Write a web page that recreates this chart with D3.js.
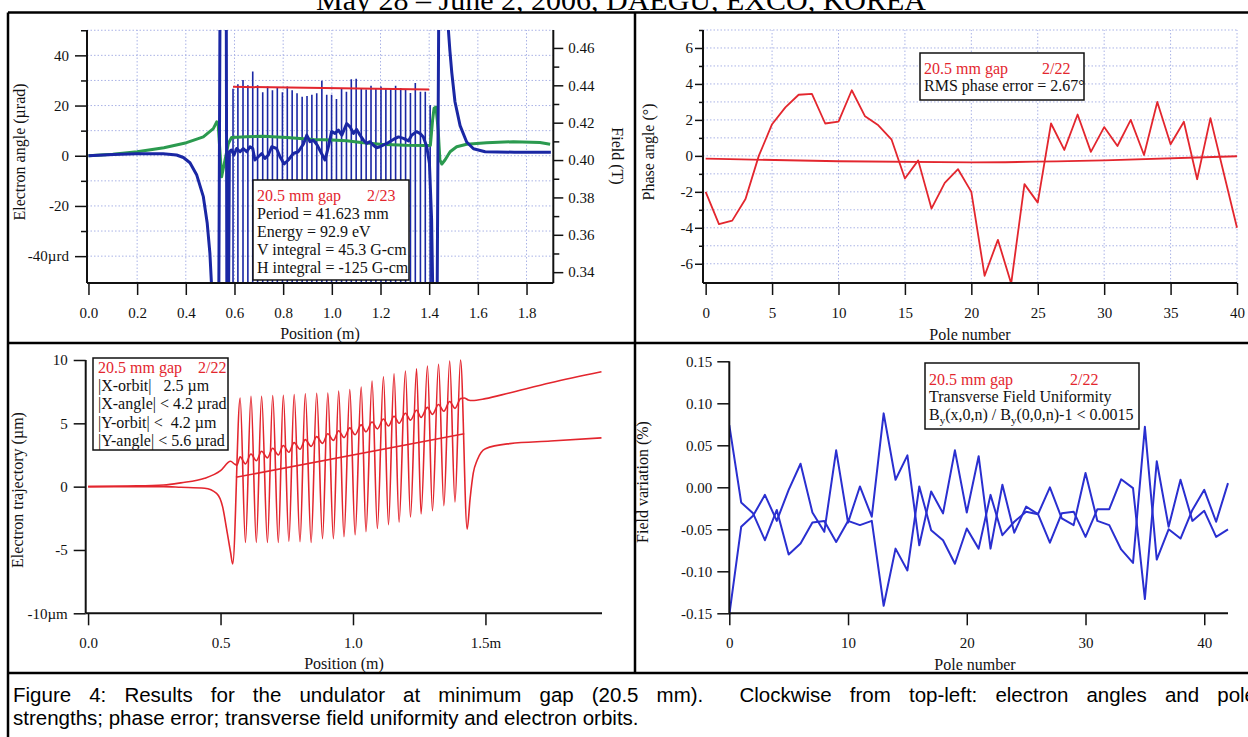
<!DOCTYPE html>
<html><head><meta charset="utf-8"><title>Undulator results at minimum gap</title>
<script src="https://cdn.jsdelivr.net/npm/d3@7"></script>
<style>
html,body{margin:0;padding:0;background:#fff;overflow:hidden}
svg{display:block}
</style></head>
<body><svg id="fig" width="1248" height="737"></svg>
<script>
// ================= DATA =================
// --- Top-left: electron angles (µrad, left axis) and pole strengths (T, right axis) vs position (m)
const tlAngle = [
 [0,0],[0.102,0.5],[0.198,0.8],[0.307,0.8],[0.362,0.3],[0.39,-0.7],[0.417,-2.8],[0.445,-7.7],[0.472,-16.3],[0.488,-26.9],[0.499,-38.9],[0.505,-50.2],[0.512,-70],
 [0.535,-70],[0.541,70],[0.566,70],[0.569,-70],[0.575,-70],
 [0.579,1.6],[0.588,2.3],[0.598,0.3],[0.609,2.9],[0.623,1.6],[0.636,2.9],[0.650,1.6],[0.664,3.6],[0.675,2.9],[0.684,-1.7],[0.698,-0.4],[0.712,0.9],[0.725,-1.1],[0.739,0.3],[0.753,3.6],[0.773,2.9],[0.787,-0.4],[0.804,-3.3],[0.821,-1.7],[0.842,0.9],[0.862,1.6],[0.883,4.6],[0.897,8.2],[0.910,5.6],[0.924,6.2],[0.940,4.2],[0.954,1.6],[0.972,-1.7],[0.986,3.6],[0.999,9.6],[1.013,8.9],[1.027,10.2],[1.041,8.2],[1.061,12.8],[1.075,11.5],[1.089,8.9],[1.102,10.5],[1.116,8.2],[1.130,6.2],[1.143,4.9],[1.157,5.6],[1.171,4.2],[1.184,3.2],[1.198,3.6],[1.226,4.9],[1.253,6.5],[1.274,7.5],[1.294,6.9],[1.315,5.9],[1.328,8.2],[1.348,9.6],[1.362,8.9],[1.376,7.5],[1.390,3.6],[1.401,-3.0],[1.410,-25.6],[1.414,-50.2],[1.418,-70],
 [1.432,-70],[1.440,70],[1.474,70],[1.479,50],[1.485,42],[1.493,33],[1.506,21.5],[1.527,12],[1.554,5.5],[1.582,2.8],[1.63,1.6],[1.75,1.4],[1.90,1.4]
];
const tlGreen = [
 [0,0],[0.1,0.6],[0.2,1.6],[0.31,3.2],[0.403,5.2],[0.472,7.5],[0.513,10.8],[0.527,13.5],[0.533,12.5],[0.547,-8.4],[0.561,-1.7],[0.575,4.9],[0.588,7.3],[0.65,7.6],[0.718,7.8],[0.815,7.3],[0.924,6.5],[1.0,6.3],[1.061,6.0],[1.12,5.3],[1.198,4.6],[1.3,4.2],[1.39,4.1],[1.405,4.1],[1.414,14.2],[1.42,18.9],[1.428,19.4],[1.437,10.2],[1.444,-1.7],[1.452,-3.3],[1.465,-1.7],[1.486,1.6],[1.513,3.6],[1.554,4.6],[1.636,5.2],[1.746,5.6],[1.855,5.3],[1.897,4.6]
];
const tlPolePos = [0.594,0.614,0.635,0.655,0.675,0.695,0.716,0.736,0.756,0.776,0.797,0.817,0.837,0.857,0.878,0.898,0.918,0.938,0.959,0.979,0.999,1.019,1.040,1.060,1.080,1.100,1.121,1.141,1.161,1.181,1.202,1.222,1.242,1.262,1.283,1.303,1.323,1.343,1.364,1.384,1.404];
const tlPoleField = [0.4382,0.4406,0.4429,0.4400,0.4474,0.4400,0.4363,0.4393,0.4373,0.4386,0.4363,0.4393,0.4373,0.4357,0.4339,0.4343,0.4349,0.4357,0.4424,0.4349,0.4349,0.4327,0.4380,0.4366,0.4433,0.4435,0.4380,0.4378,0.4398,0.4386,0.4394,0.4384,0.4381,0.4397,0.4386,0.4376,0.4359,0.4412,0.4366,0.4366,0.4295];
const tlFitPos = [0.594, 1.40];
const tlFitField = [0.4392, 0.4377];
const tlXTicks = [0,0.2,0.4,0.6,0.8,1.0,1.2,1.4,1.6,1.8];
const tlXLabels = ["0.0","0.2","0.4","0.6","0.8","1.0","1.2","1.4","1.6","1.8"];
const tlLTicks = [40,20,0,-20,-40];
const tlLLabels = ["40","20","0","-20","-40µrd"];
const tlLMinor = [50,30,10,-10,-30];
const tlRTicks = [0.46,0.44,0.42,0.40,0.38,0.36,0.34];
const tlRLabels = ["0.46","0.44","0.42","0.40","0.38","0.36","0.34"];
const tlRMinor = [0.45,0.43,0.41,0.39,0.37,0.35];
const tlGridX = [0.2,0.4,0.6,0.8,1.0,1.2,1.4,1.6,1.8];
const tlGridY = [50,40,30,20,10,0,-10,-20,-30,-40];
const tlBoxHead = ["20.5 mm gap","2/23"];
const tlBoxLines = ["Period = 41.623 mm","Energy = 92.9 eV","V integral = 45.3 G-cm","H integral = -125 G-cm"];

// --- Top-right: phase angle (deg) vs pole number
const trPoles = d3.range(0,41);
const trPhase = [-2.0,-3.8,-3.6,-2.4,0.0,1.76,2.7,3.4,3.45,1.8,1.9,3.65,2.2,1.7,0.9,-1.26,-0.25,-2.93,-1.5,-0.74,-2.0,-6.67,-4.67,-7.1,-1.57,-2.6,1.8,0.33,2.3,0.22,1.6,0.55,2.0,0.05,3.0,0.65,1.9,-1.3,2.1,-0.95,-4.0];
const trFitPoles = [0,10,20,30,40];
const trFitPhase = [-0.15,-0.3,-0.36,-0.25,-0.02];
const trXTicks = [0,5,10,15,20,25,30,35,40];
const trXLabels = ["0","5","10","15","20","25","30","35","40"];
const trYTicks = [6,4,2,0,-2,-4,-6];
const trYLabels = ["6","4","2","0","-2","-4","-6"];
const trYMinor = [7,5,3,1,-1,-3,-5];
const trGridX = [5,10,15,20,25,30,35,40];
const trGridY = [7,6,5,4,3,2,1,0,-1,-2,-3,-4,-5,-6];
const trBoxHead = ["20.5 mm gap","2/22"];
const trBoxLine = "RMS phase error = 2.67°";

// --- Bottom-left: electron trajectory (µm) vs position (m)
const blOrbitA = [
 [0,0],[0.2,0],[0.285,0],[0.35,-0.05],[0.44,-0.13],[0.485,-0.53],[0.508,-1.6],[0.523,-3.35],[0.538,-5.2],[0.546,-6.1],
 [0.574,7.0],[0.594,-4.4],[0.615,7.14],[0.635,-4.4],[0.655,7.14],[0.677,-4.4],[0.697,7.2],[0.718,-4.4],[0.737,7.22],[0.758,-4.3],
 [0.778,7.28],[0.800,-4.35],[0.820,7.33],[0.842,-4.4],[0.863,7.38],[0.885,-4.1],[0.905,7.4],[0.926,-4.1],[0.946,7.54],[0.966,-3.95],
 [0.988,7.67],[1.008,-3.8],[1.031,7.86],[1.049,-3.55],[1.072,8.33],[1.092,-3.3],[1.115,8.68],[1.134,-3.0],[1.155,8.92],[1.174,-2.8],
 [1.198,9.13],[1.217,-2.4],[1.240,9.31],[1.257,-2.15],[1.281,9.52],[1.300,-1.9],[1.323,9.66],[1.343,-1.5],[1.365,9.92],[1.385,-1.2],[1.406,10.0],
 [1.431,-3.35],[1.442,-0.96],[1.454,1.06],[1.469,2.1],[1.5,3.0],[1.592,3.4],[1.746,3.6],[1.938,3.85]
];
const blOrbitB = [
 [0,0],[0.15,0.05],[0.285,0.13],[0.35,0.3],[0.44,0.66],[0.5,1.27],[0.538,2.0],[0.552,1.8],[0.562,1.7],
 [0.574,2.35],[0.594,1.8],[0.615,2.58],[0.635,2.04],[0.655,2.8],[0.677,2.27],[0.697,3.03],[0.718,2.5],[0.737,3.25],[0.758,2.72],
 [0.778,3.48],[0.800,2.95],[0.820,3.71],[0.842,3.18],[0.863,3.95],[0.885,3.42],[0.905,4.18],[0.926,3.65],[0.946,4.41],[0.966,3.87],
 [0.988,4.64],[1.008,4.1],[1.031,4.88],[1.049,4.33],[1.072,5.1],[1.092,4.56],[1.115,5.34],[1.134,4.79],[1.155,5.56],[1.174,5.01],
 [1.198,5.8],[1.217,5.25],[1.240,6.03],[1.257,5.47],[1.281,6.26],[1.300,5.71],[1.323,6.49],[1.343,5.95],[1.365,6.72],[1.385,6.18],[1.406,6.95],
 [1.42,7.0],[1.435,6.85],[1.45,6.8],[1.5,6.95],[1.59,7.4],[1.746,8.2],[1.938,9.07]
];
const blLine = [[0.558,0.74],[1.42,4.18]];
const blXTicks = [0,0.5,1.0,1.5];
const blXLabels = ["0.0","0.5","1.0","1.5m"];
const blYTicks = [10,5,0,-5,-10];
const blYLabels = ["10","5","0","-5","-10µm"];
const blBoxHead = ["20.5 mm gap","2/22"];
const blBoxLines = ["|X-orbit|   2.5 µm","|X-angle| < 4.2 µrad","|Y-orbit| <  4.2 µm","|Y-angle| < 5.6 µrad"];

// --- Bottom-right: field variation (%) vs pole number
const brPoles = d3.range(0,43);
const brLineA = [0.074,-0.018,-0.031,-0.063,-0.027,-0.080,-0.067,-0.042,-0.040,-0.065,-0.040,-0.045,-0.040,-0.141,-0.073,-0.099,0.001,-0.051,-0.063,-0.091,-0.049,-0.073,-0.009,-0.057,-0.041,-0.029,-0.032,-0.066,-0.031,-0.029,-0.059,-0.026,-0.026,0.0095,-0.001,-0.133,0.031,-0.047,0.009,-0.040,-0.028,-0.059,-0.050];
const brLineB = [-0.152,-0.047,-0.034,-0.009,-0.040,-0.003,0.028,-0.030,-0.053,0.044,-0.042,0.001,-0.035,0.088,0.009,0.038,-0.069,-0.005,-0.031,0.044,-0.030,0.037,-0.073,0.003,-0.054,-0.023,-0.032,0.000,-0.037,-0.045,0.017,-0.040,-0.045,-0.074,-0.090,0.072,-0.086,-0.050,-0.061,-0.027,-0.003,-0.041,0.005];
const brXTicks = [0,10,20,30,40];
const brXLabels = ["0","10","20","30","40"];
const brYTicks = [0.15,0.10,0.05,0.00,-0.05,-0.10,-0.15];
const brYLabels = ["0.15","0.10","0.05","0.00","-0.05","-0.10","-0.15"];
const brBoxHead = ["20.5 mm gap","2/22"];
const brBoxLine2 = "Transverse Field Uniformity";

// --- Texts
const headerText = "May 28 – June 2, 2006, DAEGU, EXCO, KOREA";
const captionLines = [
 "Figure 4: Results for the undulator at minimum gap (20.5 mm).  Clockwise from top-left: electron angles and pole",
 "strengths; phase error; transverse field uniformity and electron orbits."
];

// ================= DRAWING =================
const SERIF = '"Liberation Serif","Times New Roman",Times,serif';
const SANS = '"Liberation Sans",Arial,Helvetica,sans-serif';
const RED = "#e3262e", NAVY = "#1a27a4", GREEN = "#2b9a4f", BLUE = "#2a2fd0", GRID = "#aab3e6";
const svg = d3.select("#fig");
svg.append("rect").attr("width",1248).attr("height",737).attr("fill","#fff");

// header (partially hidden under the figure frame)
svg.append("text").attr("x",316).attr("y",10).style("font-family",SERIF).style("font-size","30px").attr("fill","#000").text(headerText);
svg.append("rect").attr("x",8).attr("y",12.5).attr("width",1240).attr("height",725).attr("fill","#fff");

const defs = svg.append("defs");
function clip(id,x,y,w,h){ defs.append("clipPath").attr("id",id).append("rect").attr("x",x).attr("y",y).attr("width",w).attr("height",h); return `url(#${id})`; }

function styleAxis(sel, fs){
  sel.select(".domain").remove();
  sel.selectAll(".tick line").attr("stroke","#111").attr("stroke-width",1.5);
  sel.selectAll(".tick text").attr("fill","#111").style("font-family",SERIF).style("font-size",fs+"px");
}
function axisLine(g,x1,y1,x2,y2){ g.append("line").attr("x1",x1).attr("y1",y1).attr("x2",x2).attr("y2",y2).attr("stroke","#111").attr("stroke-width",2); }
function title(g,txt,x,y,rot){
  return g.append("text").attr("text-anchor","middle").style("font-family",SERIF).style("font-size","16px").attr("fill","#111")
   .attr("transform",`translate(${x},${y})${rot?` rotate(${rot})`:""}`).text(txt);
}
function gridLines(g, xs, ys, xScale, yScale){
  const [x0,x1] = xScale.range(), [y0,y1] = yScale.range();
  g.selectAll(".gx").data(xs).join("line").attr("x1",d=>xScale(d)).attr("x2",d=>xScale(d)).attr("y1",y0).attr("y2",y1)
   .attr("stroke",GRID).attr("stroke-width",1).attr("stroke-dasharray","1.5,2");
  g.selectAll(".gy").data(ys).join("line").attr("x1",x0).attr("x2",x1).attr("y1",d=>yScale(d)).attr("y2",d=>yScale(d))
   .attr("stroke",GRID).attr("stroke-width",1).attr("stroke-dasharray","1.5,2");
}
function box(g,x,y,w,h){ g.append("rect").attr("x",x).attr("y",y).attr("width",w).attr("height",h).attr("fill","#fff").attr("stroke","#111").attr("stroke-width",1.5); }
function boxText(g,txt,x,y,color){ return g.append("text").attr("x",x).attr("y",y).style("font-family",SERIF).style("font-size","16px").style("white-space","pre").attr("fill",color||"#111").text(txt); }

// ---------- Top-left ----------
{
  const g = svg.append("g");
  const x = d3.scaleLinear().domain([-0.006,1.91]).range([87,553.3]);
  const yL = d3.scaleLinear().domain([-50.7,50.1]).range([283,30]);
  const yR = d3.scaleLinear().domain([0.3342,0.4696]).range([283,30]);
  gridLines(g.append("g"), tlGridX, tlGridY, x, yL);
  const cp = clip("cTL",87,30,466.3,253);
  const pg = g.append("g").attr("clip-path",cp);
  pg.selectAll(".stick").data(tlPoleField).join("line").attr("class","stick")
    .attr("x1",(d,i)=>x(tlPolePos[i])).attr("x2",(d,i)=>x(tlPolePos[i]))
    .attr("y1",yR(yR.domain()[0])).attr("y2",d=>yR(d)).attr("stroke",NAVY).attr("stroke-width",1.6);
  pg.append("path").datum(d3.range(tlFitPos.length)).attr("fill","none").attr("stroke",RED).attr("stroke-width",2)
    .attr("d",d3.line().x(i=>x(tlFitPos[i])).y(i=>yR(tlFitField[i])));
  pg.append("path").datum(tlGreen).attr("fill","none").attr("stroke",GREEN).attr("stroke-width",3).attr("stroke-linejoin","round")
    .attr("d",d3.line().x(d=>x(d[0])).y(d=>yL(d[1])));
  pg.append("path").datum(tlAngle).attr("fill","none").attr("stroke",NAVY).attr("stroke-width",3).attr("stroke-linejoin","round")
    .attr("d",d3.line().x(d=>x(d[0])).y(d=>yL(d[1])));
  box(g,253,180,156,100);
  boxText(g,tlBoxHead[0],257,200.5,RED); boxText(g,tlBoxHead[1],367,200.5,RED);
  tlBoxLines.forEach((t,i)=>boxText(g,t,257,218.5+i*18));
  g.append("g").attr("transform","translate(87,0)").call(d3.axisLeft(yL).tickValues(tlLTicks).tickFormat((d,i)=>tlLLabels[i]).tickSize(12).tickPadding(6)).call(styleAxis,15);
  g.append("g").attr("transform","translate(87,0)").call(d3.axisLeft(yL).tickValues(tlLMinor).tickFormat("").tickSize(6)).call(styleAxis,15);
  g.append("g").attr("transform","translate(553.3,0)").call(d3.axisRight(yR).tickValues(tlRTicks).tickFormat((d,i)=>tlRLabels[i]).tickSize(10).tickPadding(5)).call(styleAxis,15);
  g.append("g").attr("transform","translate(553.3,0)").call(d3.axisRight(yR).tickValues(tlRMinor).tickFormat("").tickSize(6)).call(styleAxis,15);
  g.append("g").attr("transform","translate(0,283)").call(d3.axisBottom(x).tickValues(tlXTicks).tickFormat((d,i)=>tlXLabels[i]).tickSize(12).tickPadding(12)).call(styleAxis,15);
  axisLine(g,87,30,87,283); axisLine(g,87,283,553.3,283); axisLine(g,553.3,30,553.3,283);
  title(g,"Position (m)",320,338.5);
  title(g,"Electron angle (µrad)",25,152,-90);
  title(g,"Field (T)",612,156,90);
}

// ---------- Top-right ----------
{
  const g = svg.append("g");
  const x = d3.scaleLinear().domain([-0.2,40]).range([703,1237]);
  const y = d3.scaleLinear().domain([-7.07,7.0]).range([283,30]);
  gridLines(g.append("g"), trGridX, trGridY, x, y);
  const cp = clip("cTR",703,28,536,256);
  const pg = g.append("g").attr("clip-path",cp);
  pg.append("path").datum(d3.range(trFitPoles.length)).attr("fill","none").attr("stroke",RED).attr("stroke-width",1.8)
    .attr("d",d3.line().curve(d3.curveMonotoneX).x(i=>x(trFitPoles[i])).y(i=>y(trFitPhase[i])));
  pg.append("path").datum(trPoles).attr("fill","none").attr("stroke",RED).attr("stroke-width",1.8).attr("stroke-linejoin","round")
    .attr("d",d3.line().x(d=>x(d)).y((d,i)=>y(trPhase[i])));
  box(g,920,53,164,47);
  boxText(g,trBoxHead[0],924,74,RED); boxText(g,trBoxHead[1],1042,74,RED);
  boxText(g,trBoxLine,924,91);
  g.append("g").attr("transform","translate(703,0)").call(d3.axisLeft(y).tickValues(trYTicks).tickFormat((d,i)=>trYLabels[i]).tickSize(8).tickPadding(2)).call(styleAxis,15);
  g.append("g").attr("transform","translate(703,0)").call(d3.axisLeft(y).tickValues(trYMinor).tickFormat("").tickSize(4)).call(styleAxis,15);
  g.append("g").attr("transform","translate(0,283)").call(d3.axisBottom(x).tickValues(trXTicks).tickFormat((d,i)=>trXLabels[i]).tickSize(12).tickPadding(12)).call(styleAxis,15);
  axisLine(g,703,30,703,283); axisLine(g,703,283,1237,283);
  title(g,"Pole number",970,339.5);
  title(g,"Phase angle (°)",654,152,-90);
}

// ---------- Bottom-left ----------
{
  const g = svg.append("g");
  const x = d3.scaleLinear().domain([-0.009,1.94]).range([85.7,602]);
  const y = d3.scaleLinear().domain([-10,10]).range([613.3,360]);
  const cp = clip("cBL",85.7,357,520,257);
  const pg = g.append("g").attr("clip-path",cp);
  const ln = d3.line().curve(d3.curveMonotoneX).x(d=>x(d[0])).y(d=>y(d[1]));
  pg.append("path").datum(blOrbitA).attr("fill","none").attr("stroke",RED).attr("stroke-width",1.6).attr("d",ln);
  pg.append("path").datum(blOrbitB).attr("fill","none").attr("stroke",RED).attr("stroke-width",1.6).attr("d",ln);
  pg.append("path").datum(blLine).attr("fill","none").attr("stroke",RED).attr("stroke-width",1.6).attr("d",d3.line().x(d=>x(d[0])).y(d=>y(d[1])));
  box(g,93,358,135,92);
  boxText(g,blBoxHead[0],98,373,RED); boxText(g,blBoxHead[1],198,373,RED);
  blBoxLines.forEach((t,i)=>boxText(g,t,98,391+i*18.3));
  g.append("g").attr("transform","translate(85.7,0)").call(d3.axisLeft(y).tickValues(blYTicks).tickFormat((d,i)=>blYLabels[i]).tickSize(12).tickPadding(6)).call(styleAxis,15);
  g.append("g").attr("transform","translate(0,613.3)").call(d3.axisBottom(x).tickValues(blXTicks).tickFormat((d,i)=>blXLabels[i]).tickSize(12).tickPadding(12)).call(styleAxis,15);
  axisLine(g,85.7,360,85.7,613.3); axisLine(g,85.7,613.3,602,613.3);
  title(g,"Position (m)",344,668.5);
  title(g,"Electron trajectory (µm)",23,490,-90);
}

// ---------- Bottom-right ----------
{
  const g = svg.append("g");
  const x = d3.scaleLinear().domain([0,42]).range([729.3,1228]);
  const y = d3.scaleLinear().domain([-0.15,0.15]).range([613.3,361.3]);
  const cp = clip("cBR",729.3,355,500,262);
  const pg = g.append("g").attr("clip-path",cp);
  [brLineA, brLineB].forEach(arr=>{
    pg.append("path").datum(brPoles).attr("fill","none").attr("stroke",BLUE).attr("stroke-width",2).attr("stroke-linejoin","round")
      .attr("d",d3.line().x(d=>x(d)).y((d,i)=>y(arr[i])));
  });
  box(g,925,363,214,66);
  boxText(g,brBoxHead[0],929,385,RED); boxText(g,brBoxHead[1],1070,385,RED);
  boxText(g,brBoxLine2,929,402);
  const t3 = g.append("text").attr("x",929).attr("y",419.5).style("font-family",SERIF).style("font-size","16px").attr("fill","#111");
  t3.append("tspan").text("B");
  t3.append("tspan").attr("dy",4).style("font-size","11px").text("y");
  t3.append("tspan").attr("dy",-4).text("(x,0,n) / B");
  t3.append("tspan").attr("dy",4).style("font-size","11px").text("y");
  t3.append("tspan").attr("dy",-4).text("(0,0,n)-1 < 0.0015");
  g.append("g").attr("transform","translate(729.3,0)").call(d3.axisLeft(y).tickValues(brYTicks).tickFormat((d,i)=>brYLabels[i]).tickSize(12).tickPadding(5)).call(styleAxis,15);
  g.append("g").attr("transform","translate(0,613.3)").call(d3.axisBottom(x).tickValues(brXTicks).tickFormat((d,i)=>brXLabels[i]).tickSize(12).tickPadding(12)).call(styleAxis,15);
  axisLine(g,729.3,361.3,729.3,613.3); axisLine(g,729.3,613.3,1228,613.3);
  title(g,"Pole number",975,669.5);
  title(g,"Field variation (%)",648,482,-90);
}

// ---------- Frame ----------
{
  const f = svg.append("g").attr("stroke","#000").attr("stroke-width",2.5);
  f.append("line").attr("x1",8).attr("x2",1248).attr("y1",12.5).attr("y2",12.5);
  f.append("line").attr("x1",8).attr("x2",8).attr("y1",12.5).attr("y2",737);
  f.append("line").attr("x1",635).attr("x2",635).attr("y1",12.5).attr("y2",673);
  f.append("line").attr("x1",8).attr("x2",1248).attr("y1",343).attr("y2",343);
  f.append("line").attr("x1",8).attr("x2",1248).attr("y1",673).attr("y2",673);
}

// ---------- Caption (justified first line, natural second line) ----------
{
  const fs = 20.5;
  svg.append("text").attr("x",13).attr("y",725).style("font-family",SANS).style("font-size",fs+"px").attr("fill","#000").text(captionLines[1]);
  const c1 = svg.append("text").attr("x",13).attr("y",702).style("font-family",SANS).style("font-size",fs+"px").attr("fill","#000").style("white-space","pre").text(captionLines[0]);
  const w1 = c1.node().getComputedTextLength();
  const nSp = (captionLines[0].match(/ /g)||[]).length;
  c1.style("word-spacing",Math.max(0,(1256-13-w1)/nSp)+"px");
}
</script></body></html>
